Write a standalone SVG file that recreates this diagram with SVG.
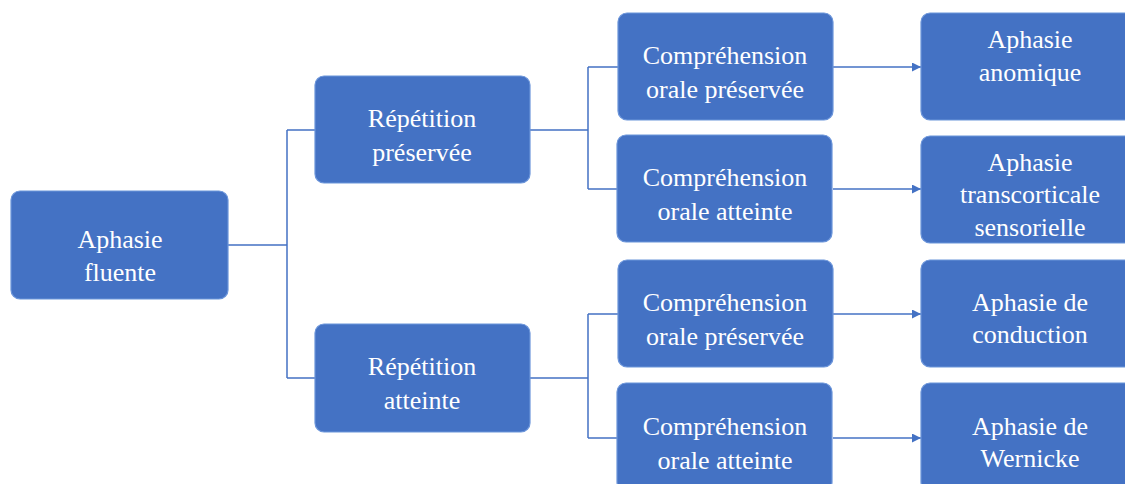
<svg xmlns="http://www.w3.org/2000/svg" width="1125" height="484" viewBox="0 0 1125 484">
<defs>
<style>
.box{fill:#4472C4;stroke:#6B95DA;stroke-width:1.2}
.t{font-family:'Liberation Serif','Times New Roman','DejaVu Serif',serif;font-size:26px;fill:#FFFFFF;text-anchor:middle}
.c{fill:none;stroke:#4472C4;stroke-width:1.5}
</style>
<marker id="ah" viewBox="0 0 10 10" refX="10" refY="5" markerWidth="9" markerHeight="9" orient="auto" markerUnits="userSpaceOnUse">
<path d="M0,0 L10,5 L0,10 Z" fill="#4472C4"/>
</marker>
</defs>
<rect width="1125" height="484" fill="#FFFFFF"/>
<g id="connectors">
<path class="c" d="M228,245 H287 M287,130 V378 M287,130 H315 M287,378 H315"/>
<path class="c" d="M530,130 H588 M588,67 V189 M588,67 H618 M588,189 H618"/>
<path class="c" d="M530,378 H588 M588,314 V438 M588,314 H618 M588,438 H618"/>
<line class="c" x1="833" y1="67" x2="921" y2="67" marker-end="url(#ah)"/>
<line class="c" x1="833" y1="189" x2="921" y2="189" marker-end="url(#ah)"/>
<line class="c" x1="833" y1="314" x2="921" y2="314" marker-end="url(#ah)"/>
<line class="c" x1="833" y1="438" x2="921" y2="438" marker-end="url(#ah)"/>
</g>
<g font-family="Liberation Serif, serif">
<g id="n-fluente"><rect class="box" x="11" y="191" width="217" height="108" rx="9"/>
<text class="t" x="120" y="248">Aphasie</text><text class="t" x="120" y="281">fluente</text></g>
<g id="n-rep-pres"><rect class="box" x="315" y="76" width="215" height="107" rx="9"/>
<text class="t" x="422" y="127">Répétition</text><text class="t" x="422" y="161">préservée</text></g>
<g id="n-rep-att"><rect class="box" x="315" y="324" width="215" height="108" rx="9"/>
<text class="t" x="422" y="375">Répétition</text><text class="t" x="422" y="409">atteinte</text></g>
<g id="n-comp1"><rect class="box" x="618" y="13" width="215" height="107" rx="9"/>
<text class="t" x="725" y="64">Compréhension</text><text class="t" x="725" y="98">orale préservée</text></g>
<g id="n-comp2"><rect class="box" x="617" y="135" width="215" height="107" rx="9"/>
<text class="t" x="725" y="186">Compréhension</text><text class="t" x="725" y="220">orale atteinte</text></g>
<g id="n-comp3"><rect class="box" x="618" y="260" width="215" height="107" rx="9"/>
<text class="t" x="725" y="311">Compréhension</text><text class="t" x="725" y="345">orale préservée</text></g>
<g id="n-comp4"><rect class="box" x="617" y="383" width="215" height="108" rx="9"/>
<text class="t" x="725" y="435">Compréhension</text><text class="t" x="725" y="469">orale atteinte</text></g>
<g id="n-anomique"><rect class="box" x="921" y="13" width="218" height="107" rx="9"/>
<text class="t" x="1030" y="48">Aphasie</text><text class="t" x="1030" y="81">anomique</text></g>
<g id="n-transcort"><rect class="box" x="921" y="136" width="218" height="107" rx="9"/>
<text class="t" x="1030" y="171">Aphasie</text><text class="t" x="1030" y="203">transcorticale</text><text class="t" x="1030" y="236">sensorielle</text></g>
<g id="n-conduction"><rect class="box" x="921" y="260" width="218" height="107" rx="9"/>
<text class="t" x="1030" y="311">Aphasie de</text><text class="t" x="1030" y="343">conduction</text></g>
<g id="n-wernicke"><rect class="box" x="921" y="383" width="218" height="108" rx="9"/>
<text class="t" x="1030" y="435">Aphasie de</text><text class="t" x="1030" y="467">Wernicke</text></g>
</g>
</svg>
